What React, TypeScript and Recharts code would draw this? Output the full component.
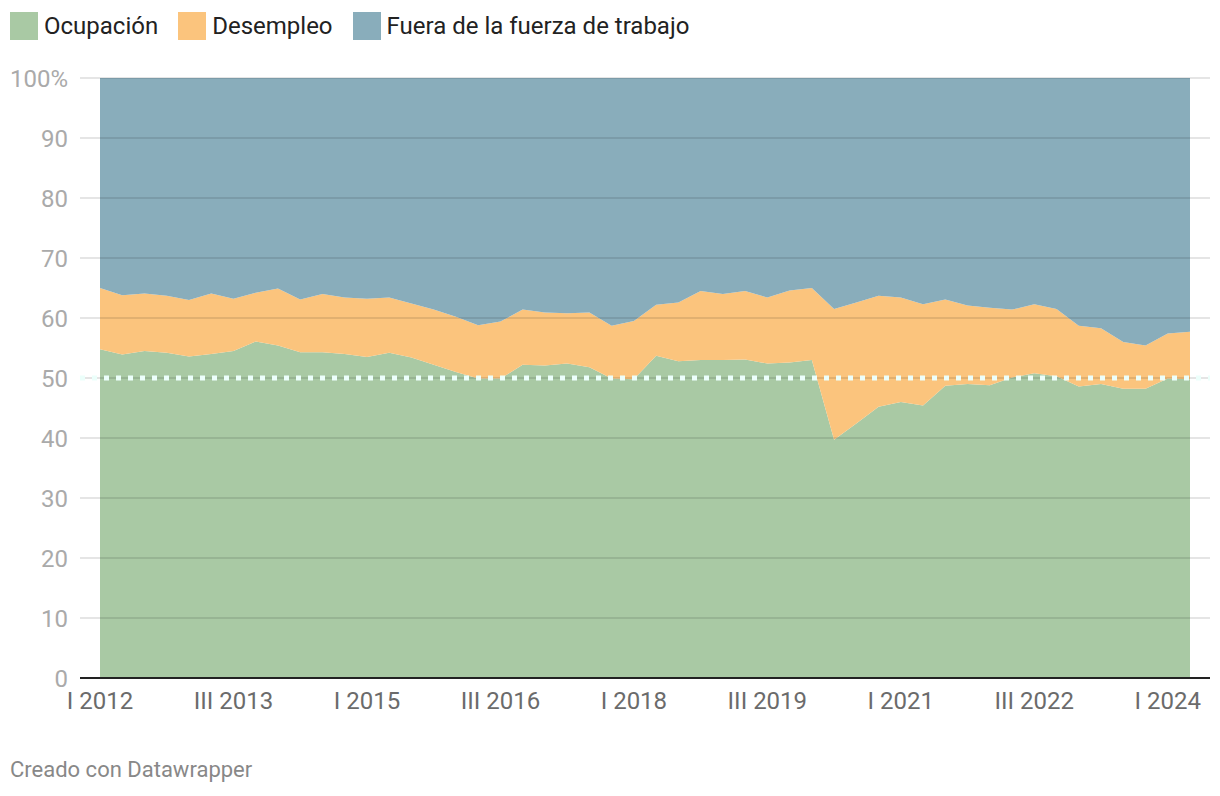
import React from 'react'
import {
  AreaChart, Area, XAxis, YAxis, CartesianGrid, ReferenceLine,
} from 'recharts'

const quarters = [
  'I 2012', 'II 2012', 'III 2012', 'IV 2012',
  'I 2013', 'II 2013', 'III 2013', 'IV 2013',
  'I 2014', 'II 2014', 'III 2014', 'IV 2014',
  'I 2015', 'II 2015', 'III 2015', 'IV 2015',
  'I 2016', 'II 2016', 'III 2016', 'IV 2016',
  'I 2017', 'II 2017', 'III 2017', 'IV 2017',
  'I 2018', 'II 2018', 'III 2018', 'IV 2018',
  'I 2019', 'II 2019', 'III 2019', 'IV 2019',
  'I 2020', 'II 2020', 'III 2020', 'IV 2020',
  'I 2021', 'II 2021', 'III 2021', 'IV 2021',
  'I 2022', 'II 2022', 'III 2022', 'IV 2022',
  'I 2023', 'II 2023', 'III 2023', 'IV 2023',
  'I 2024', 'II 2024',
]

// % de la población en edad de trabajar
const ocupacion = [
  54.8, 53.9, 54.5, 54.2, 53.6, 54.0, 54.5, 56.1, 55.4, 54.3,
  54.3, 54.0, 53.5, 54.2, 53.4, 52.2, 51.0, 49.9, 49.9, 52.2,
  52.1, 52.4, 51.8, 49.9, 49.8, 53.7, 52.8, 53.0, 53.0, 53.1,
  52.4, 52.6, 53.0, 39.7, 42.4, 45.2, 46.0, 45.4, 48.7, 49.0,
  48.8, 50.1, 50.8, 50.3, 48.6, 49.0, 48.2, 48.2, 49.9, 49.8,
]
const desempleo = [
  10.2, 9.9, 9.6, 9.5, 9.4, 10.1, 8.7, 8.1, 9.5, 8.8,
  9.7, 9.4, 9.7, 9.2, 9.0, 9.2, 9.2, 8.9, 9.5, 9.2,
  8.8, 8.4, 9.1, 8.8, 9.7, 8.5, 9.8, 11.5, 11.0, 11.4,
  11.0, 12.0, 12.0, 21.8, 20.2, 18.5, 17.4, 16.9, 14.4, 13.1,
  12.9, 11.3, 11.5, 11.2, 10.1, 9.3, 7.8, 7.2, 7.5, 7.9,
]
const fuera = [
  35.0, 36.2, 35.9, 36.3, 37.0, 35.9, 36.8, 35.8, 35.1, 36.9,
  36.0, 36.6, 36.8, 36.6, 37.6, 38.6, 39.8, 41.2, 40.6, 38.6,
  39.1, 39.2, 39.1, 41.3, 40.5, 37.8, 37.4, 35.5, 36.0, 35.5,
  36.6, 35.4, 35.0, 38.5, 37.4, 36.3, 36.6, 37.7, 36.9, 37.9,
  38.3, 38.6, 37.7, 38.5, 41.3, 41.7, 44.0, 44.6, 42.6, 42.3,
]

const xTicks = ['I 2012', 'III 2013', 'I 2015', 'III 2016', 'I 2018', 'III 2019', 'I 2021', 'III 2022', 'I 2024']
const yTicks = [0, 10, 20, 30, 40, 50, 60, 70, 80, 90, 100]

const series = [
  { key: 'ocupacion', name: 'Ocupación', color: '#a9c9a4' },
  { key: 'desempleo', name: 'Desempleo', color: '#fbc47d' },
  { key: 'fuera', name: 'Fuera de la fuerza de trabajo', color: '#89adbb' },
]

const data = quarters.map((q, i) => ({
  q,
  ocupacion: ocupacion[i],
  desempleo: desempleo[i],
  fuera: fuera[i],
}))

const font = 'Roboto, sans-serif'

export default function App() {
  return (
    <div style={{ position: 'relative', width: 1220, height: 796, margin: -8, fontFamily: font, background: '#fff' }}>
      <div style={{ position: 'absolute', top: 12, left: 10, display: 'flex', alignItems: 'center' }}>
        {series.map((s) => (
          <div key={s.key} style={{ display: 'flex', alignItems: 'center', marginRight: 20 }}>
            <div style={{ width: 28, height: 28, background: s.color }} />
            <span style={{ marginLeft: 6, fontSize: 24, color: '#222' }}>{s.name}</span>
          </div>
        ))}
      </div>

      <AreaChart
        width={1220}
        height={796}
        data={data}
        margin={{ top: 78, right: 10, left: 0, bottom: 78 }}
      >
        <XAxis
          dataKey="q"
          ticks={xTicks}
          interval={0}
          padding={{ left: 20, right: 20 }}
          height={40}
          axisLine={{ stroke: '#222', strokeWidth: 2 }}
          tickLine={false}
          tickSize={6}
          tickMargin={8}
          tick={{ fontSize: 24, fill: '#6b6b6b', fontFamily: font }}
        />
        <YAxis
          domain={[0, 100]}
          ticks={yTicks}
          width={80}
          axisLine={false}
          tickLine={false}
          tickSize={6}
          tickMargin={6}
          tickFormatter={(v) => (v === 100 ? '100%' : String(v))}
          tick={{ fontSize: 24, fill: '#aaa', fontFamily: font }}
        />
        {series.map((s) => (
          <Area
            key={s.key}
            type="linear"
            dataKey={s.key}
            name={s.name}
            stackId="1"
            stroke="none"
            fill={s.color}
            fillOpacity={1}
            isAnimationActive={false}
          />
        ))}
        <CartesianGrid vertical={false} stroke="rgba(0,0,0,0.1)" strokeWidth={2} zIndex={300} />
        <ReferenceLine y={50} stroke="#ecfffb" strokeWidth={5} strokeDasharray="5 7" zIndex={400} />
      </AreaChart>

      <div style={{ position: 'absolute', left: 10, top: 757, fontSize: 22, color: '#888' }}>
        Creado con Datawrapper
      </div>
    </div>
  )
}
